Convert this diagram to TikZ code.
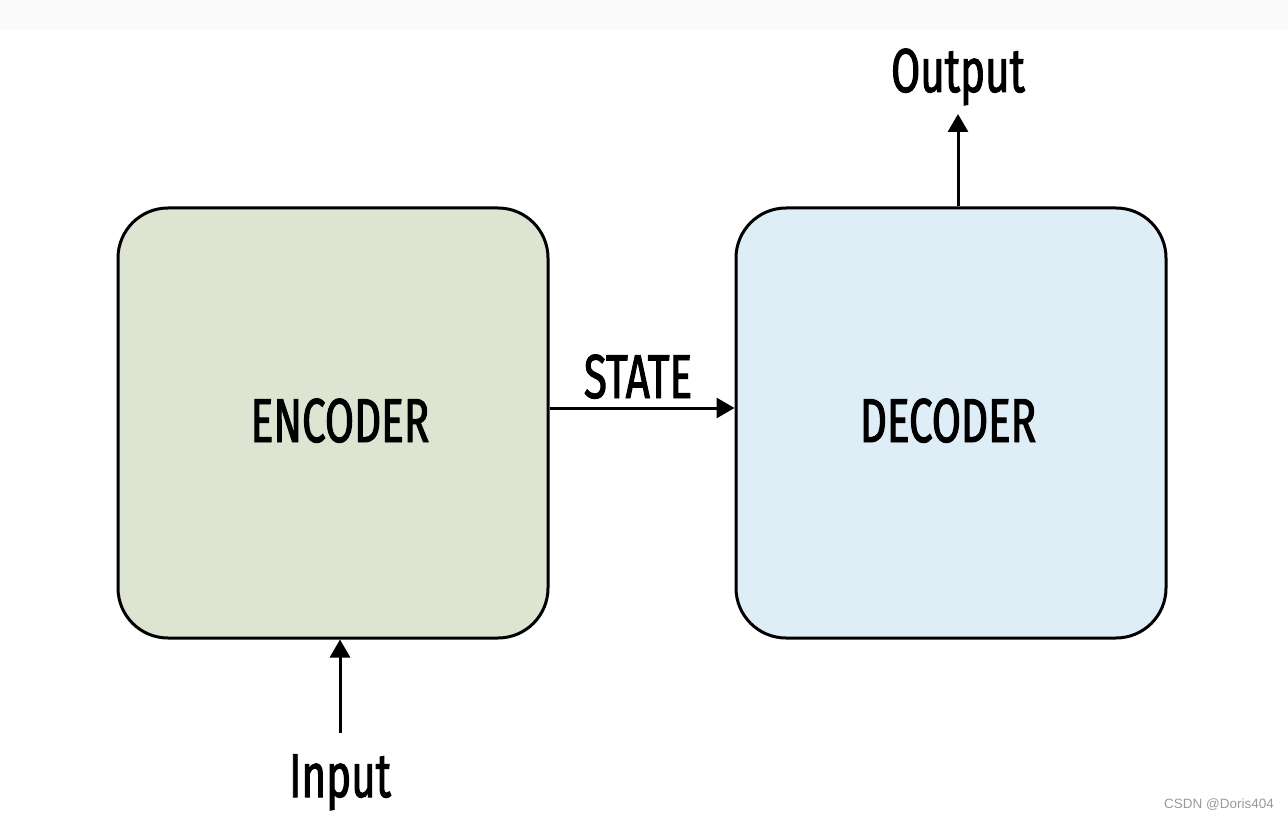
\documentclass[tikz,border=0pt]{standalone}
\usepackage{fontspec}
\usetikzlibrary{arrows.meta}
\newfontfamily\condfont[FakeStretch=0.68,FakeBold=1.6]{Fira Sans}
\newfontfamily\wmfont{Liberation Sans}
\definecolor{encfill}{HTML}{DDE4D2}
\definecolor{decfill}{HTML}{DFEDF7}
\definecolor{wmgray}{HTML}{9A9A9A}
\definecolor{topband}{HTML}{FAFAFA}
\tikzset{
  blockbox/.style={draw=black, line width=3pt, rounded corners=50pt, minimum width=430pt, minimum height=430pt, inner sep=0pt},
  lbl/.style={font=\condfont\fontsize{62}{64}\selectfont, text=black, anchor=base, inner sep=0pt},
  flow/.style={line width=3pt, -{Triangle[length=18pt,width=20pt]}},
}
\begin{document}
\begin{tikzpicture}[x=1pt,y=-1pt]
\useasboundingbox (0,0) rectangle (1288,818);
\fill[white] (0,0) rectangle (1288,818);
\fill[topband] (0,0) rectangle (1288,30);
\node[blockbox, fill=encfill] (enc) at (333,423) {};
\node[blockbox, fill=decfill] (dec) at (951,423) {};
\node[lbl] (enct) at (340,442) {ENCODER};
\node[lbl] (dect) at (948,442) {DECODER};
\node[lbl] (state) at (638,398) {STATE};
\node[lbl] (inp) at (340,797) {Input};
\node[lbl] (outp) at (958,92) {Output};
\coordinate (inbot) at (340,733);
\coordinate (outtop) at (958,114);
\draw[flow] (enc.east |- 0,408) -- (dec.west |- 0,408);
\draw[flow] (inbot) -- (inbot |- enc.south);
\draw[flow] (outtop |- dec.north) -- (outtop);
\node[font=\wmfont\fontsize{13.5}{15}\selectfont, text=wmgray, anchor=base east, inner sep=0pt] (wm) at (1274,808) {CSDN @Doris404};
\end{tikzpicture}
\end{document}
